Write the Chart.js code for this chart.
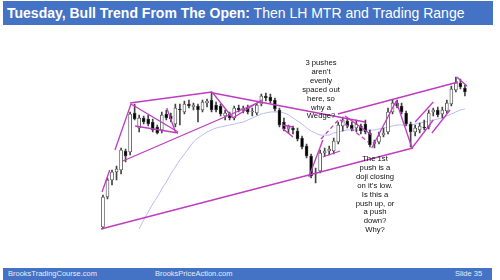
<!DOCTYPE html>
<html>
<head>
<meta charset="utf-8">
<script src="https://cdn.jsdelivr.net/npm/chart.js@4.4.1/dist/chart.umd.min.js"></script>
<style>
  body { margin: 0; background: #fff; font-family: "Liberation Sans", Arial, sans-serif; }
  #wrap { position: relative; width: 500px; height: 280px; overflow: hidden; }
  #c { position: absolute; left: 0; top: 0; }
  .title { position: absolute; left: 3px; top: 1px; width: 490px; height: 24px; background: #4472c4; color: #fff;
           font-size: 14px; line-height: 25px; padding-left: 4px; box-sizing: border-box; white-space: nowrap; }
  .foot { position: absolute; left: 3px; top: 268px; width: 489px; height: 12px; background: #4472c4; }
  .foot span { position: absolute; top: 0; font-size: 7.5px; line-height: 12px; color: #e8ecf6; white-space: nowrap; }
  .note { position: absolute; width: 70px; text-align: center; font-size: 7.7px; line-height: 8.9px; color: #111; }
</style>
</head>
<body>
<div id="wrap">
  <canvas id="c" width="500" height="280"></canvas>
  <div class="title"><b>Tuesday, Bull Trend From The Open:</b> Then LH MTR and Trading Range</div>
  <div class="note" style="left:286px; top:59px;">3 pushes<br>aren’t<br>evenly<br>spaced out<br>here, so<br>why a<br>Wedge?</div>
  <div class="note" style="left:340px; top:155px;">The 1st<br>push is a<br>doji closing<br>on it’s low.<br>Is this a<br>push up, or<br>a push<br>down?<br>Why?</div>
  <div class="foot">
    <span style="left:5px;">BrooksTradingCourse.com</span>
    <span style="left:152px;">BrooksPriceAction.com</span>
    <span style="left:452px;">Slide 35</span>
  </div>
</div>
<script>
// 5 minute bars, one trading day
const barLabels = [];
for (let i = 0; i < 81; i++) barLabels.push(i + 1);

const open  = [13,43,60,68,70,89,88,127,112,122,121,118,113,110,126,124,116,131,128,136,133,134,130,137,140,135,134,124,126,122,132,130,132,128,127,136,144,143,140,130,118,111,112,109,102,94,84,66,69,87,89,89,98,114,119,115,112,114,116,107,96,98,105,108,128,137,134,127,116,108,110,113,113,128,130,126,129,136,150,157,152];
const high  = [45,62,70,74,92,91,128,136,125,124,125,121,115,128,130,127,136,136,139,140,137,136,140,141,148,138,136,130,128,134,135,134,135,132,136,146,147,146,142,132,122,115,114,112,104,96,86,72,90,92,94,102,118,123,122,118,120,116,120,110,100,108,112,132,140,140,137,129,118,115,117,120,130,132,133,133,140,154,163,161,155];
const low   = [11,41,55,60,66,78,85,120,108,116,114,108,106,107,120,118,113,115,126,132,130,118,128,133,128,128,124,120,120,120,128,127,126,124,125,134,139,137,129,113,109,107,106,99,91,82,62,57,67,84,85,86,96,109,112,109,108,106,106,93,92,96,103,106,126,132,126,114,93,104,107,110,111,124,123,122,127,134,148,151,144];
const close = [43,60,68,71,90,84,126,121,122,118,116,110,107,125,122,121,132,130,136,134,135,130,138,139,130,130,126,127,122,132,130,132,128,129,135,144,142,139,131,115,111,113,110,101,93,84,64,67,87,89,91,99,115,120,114,111,116,109,108,95,98,104,107,128,137,134,128,116,108,112,114,112,127,130,125,130,137,151,157,153,148];

// 20 bar moving average (starts off the bottom of the chart)
const ema20 = [null,null,null,null,null,null,null,null,
  11,20,28,36,43,51,58,66,73,80,86,92,98,102,105,108,110,112,113,114,
  115,116,117,118,120,122,124,126,127,128,128,128,127,125,122,119,116,112,109,107,
  105,105,105,107,108,109,110,110,110,110,110,110,110,111,112,113,114,115,115,115,
  115,116,117,118,119,120,121,122,124,126,128,130,131];

// hand drawn trend lines: [bar index, price]
const trendLines = [
  [[-0.45,11],[68.5,92]],
  [[-0.2,48],[1.5,70]],
  [[2.65,90],[6.2,136]],
  [[6,137],[24.1,148]],
  [[6.2,136],[16.6,108]],
  [[7.1,114],[16.6,107]],
  [[4.4,79],[35.1,139]],
  [[14.1,132],[16.1,107]],
  [[24.1,148],[28.7,122]],
  [[28.7,122],[35.1,140]],
  [[24.3,147],[57.9,118]],
  [[39.6,115],[42,113]],
  [[39.6,112],[42,103]],
  [[45.5,63],[48.6,100]],
  [[48.6,83],[52.4,89]],
  [[51.9,126],[78.5,158]],
  [[53.5,124],[59.4,105]],
  [[59.4,92],[64.8,139]],
  [[64.8,139],[68.3,92]],
  [[68.3,92],[73,120]],
  [[69,118],[73,138]],
  [[72.7,107],[76.7,130]],
  [[78.2,163],[80.7,153]]
];
const dashedLine = [[48.2,101],[52.2,121],[58.6,98]];

const magenta = '#bf3cbf';

const datasets = [
  {
    type: 'bar', label: 'bodies', xAxisID: 'x', yAxisID: 'y',
    data: open.map((o, i) => [o, close[i]]),
    backgroundColor: open.map((o, i) => close[i] >= o ? '#ffffff' : '#000000'),
    borderColor: '#444', borderWidth: 0.8, borderSkipped: false,
    barThickness: 3, grouped: false, order: 2
  },
  {
    type: 'bar', label: 'wicks', xAxisID: 'x', yAxisID: 'y',
    data: low.map((l, i) => [l, high[i]]),
    backgroundColor: '#444', barThickness: 1, grouped: false, order: 3
  },
  {
    type: 'line', label: 'ema', xAxisID: 'x', yAxisID: 'y',
    data: ema20, borderColor: '#b9b9f5', borderWidth: 1, pointRadius: 0,
    tension: 0.4, order: 4
  }
];

trendLines.forEach(seg => {
  datasets.push({
    type: 'line', xAxisID: 'xl', yAxisID: 'y',
    data: seg.map(p => ({x: p[0], y: p[1]})),
    borderColor: magenta, borderWidth: 1.3, pointRadius: 0, order: 0
  });
});
datasets.push({
  type: 'line', xAxisID: 'xl', yAxisID: 'y',
  data: dashedLine.map(p => ({x: p[0], y: p[1]})),
  borderColor: magenta, borderWidth: 1.3, borderDash: [4, 3], pointRadius: 0, order: 0
});

new Chart(document.getElementById('c').getContext('2d'), {
  type: 'bar',
  data: { labels: barLabels, datasets: datasets },
  options: {
    responsive: false,
    animation: false,
    devicePixelRatio: 1,
    layout: { padding: { left: 100.7, right: 32.8, top: 60, bottom: 40 } },
    plugins: { legend: { display: false }, tooltip: { enabled: false } },
    scales: {
      x: { type: 'category', display: false, offset: true },
      xl: { type: 'linear', display: false, offset: false, min: -0.5, max: 80.5 },
      y: { display: false, min: 0, max: 180 }
    }
  }
});
</script>
</body>
</html>
